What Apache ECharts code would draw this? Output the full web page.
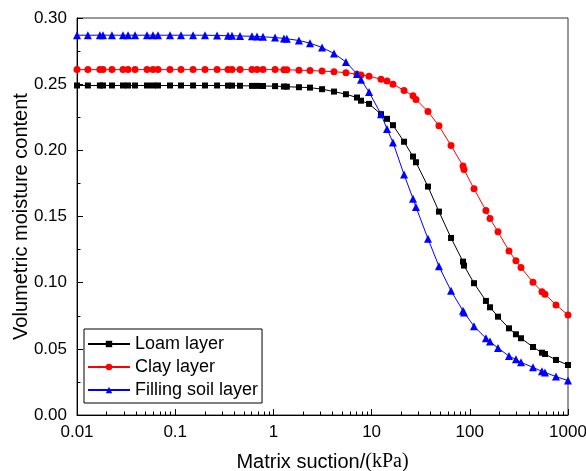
<!DOCTYPE html>
<html>
<head>
<meta charset="utf-8">
<script src="https://cdn.jsdelivr.net/npm/echarts@6/dist/echarts.min.js"></script>
<style>html,body{margin:0;padding:0;background:#fff}#c{width:586px;height:471px}</style>
</head>
<body>
<div id="c"></div>
<script>
// Matrix suction values (kPa), shared by all series
const suction = [0.01, 0.0129, 0.0171, 0.0184, 0.0227, 0.0294, 0.0331, 0.039, 0.0516, 0.0594,
  0.0668, 0.0885, 0.1146, 0.152, 0.201, 0.267, 0.345, 0.379, 0.457, 0.605,
  0.681, 0.784, 1.04, 1.28, 1.37, 1.82, 2.36, 3.13, 4.14, 5.48,
  7.10, 7.80, 9.42, 12.47, 14.35, 16.5, 21.4, 26.4, 28.3, 37.5,
  48.5, 64.4, 85.3, 87.3, 110.4, 146, 160.6, 193.8, 250.6, 295,
  332, 440, 543, 583, 755, 1000];
const loam = [0.249, 0.249, 0.249, 0.249, 0.249, 0.249, 0.249, 0.249, 0.249, 0.249,
  0.249, 0.249, 0.249, 0.249, 0.249, 0.249, 0.2489, 0.2489, 0.2488, 0.2487,
  0.2487, 0.2486, 0.2485, 0.2482, 0.2481, 0.2477, 0.2474, 0.2462, 0.2444, 0.2424,
  0.2399, 0.2375, 0.2351, 0.2273, 0.2238, 0.219, 0.2065, 0.1953, 0.191, 0.1726,
  0.1537, 0.1338, 0.1159, 0.1129, 0.0996, 0.0862, 0.0814, 0.0743, 0.0655, 0.061,
  0.058, 0.0514, 0.0471, 0.0461, 0.0416, 0.0378];
const clay = [0.261, 0.261, 0.261, 0.261, 0.261, 0.261, 0.261, 0.261, 0.261, 0.261,
  0.261, 0.261, 0.261, 0.261, 0.261, 0.261, 0.261, 0.261, 0.261, 0.261,
  0.261, 0.261, 0.261, 0.2609, 0.2608, 0.2606, 0.2603, 0.2599, 0.2594, 0.2587,
  0.2575, 0.257, 0.256, 0.2538, 0.2523, 0.25, 0.2452, 0.2412, 0.2385, 0.2293,
  0.2185, 0.2036, 0.1882, 0.1855, 0.1709, 0.1545, 0.1485, 0.1384, 0.124, 0.1166,
  0.1114, 0.1003, 0.0932, 0.0912, 0.0832, 0.0756];
const filling = [0.287, 0.287, 0.287, 0.287, 0.287, 0.287, 0.287, 0.287, 0.287, 0.287,
  0.287, 0.287, 0.287, 0.287, 0.287, 0.2868, 0.2866, 0.2866, 0.2864, 0.2862,
  0.286, 0.2858, 0.2852, 0.2846, 0.2843, 0.283, 0.281, 0.2777, 0.2732, 0.2668,
  0.2577, 0.2533, 0.244, 0.2273, 0.2162, 0.206, 0.1817, 0.1635, 0.1572, 0.1332,
  0.1124, 0.0938, 0.0787, 0.0775, 0.067, 0.058, 0.0555, 0.0506, 0.0445, 0.0421,
  0.0398, 0.036, 0.033, 0.0322, 0.029, 0.026];
const seriesNames = ['Loam layer', 'Clay layer', 'Filling soil layer'];
const xTickLabels = ['0.01', '0.1', '1', '10', '100', '1000'];
const yTickLabels = ['0.00', '0.05', '0.10', '0.15', '0.20', '0.25', '0.30'];
const xMinorTicks = [];
[0.01, 0.1, 1, 10, 100].forEach(function (d) { for (let k = 2; k <= 9; k++) xMinorTicks.push(+(d * k).toPrecision(3)); });

const pairs = arr => suction.map((x, i) => [x, arr[i]]);
const FONT = '"Liberation Sans", Arial, sans-serif';

const chart = echarts.init(document.getElementById('c'), null, {renderer: 'canvas'});
chart.setOption({
  animation: false,
  backgroundColor: '#fff',
  grid: {left: 77, right: 18, top: 18, bottom: 56, containLabel: false, outerBoundsMode: 'none',
    show: true, borderColor: '#333', borderWidth: 1, backgroundColor: 'transparent'},
  legend: {
    orient: 'vertical', left: 84, top: 329,
    data: seriesNames,
    itemWidth: 42, itemHeight: 8, itemGap: 5,
    padding: [6, 4, 4, 3],
    borderColor: '#000', borderWidth: 1, borderRadius: 0,
    textStyle: {fontFamily: FONT, fontSize: 18, color: '#000'}
  },
  xAxis: [{
    type: 'log', min: 0.01, max: 1000, logBase: 10,
    name: '{a|Matrix suction/}{b|(kPa)}', nameLocation: 'middle', nameGap: 37, nameMoveOverlap: false,
    nameTextStyle: {rich: {
      a: {fontFamily: FONT, fontSize: 20, color: '#000'},
      b: {fontFamily: '"Liberation Serif", "Times New Roman", serif', fontSize: 20, color: '#000'}
    }},
    axisLine: {show: true, lineStyle: {color: '#000', width: 1}},
    axisTick: {show: true, inside: true, length: 6, lineStyle: {color: '#000'}},
    axisLabel: {fontFamily: FONT, fontSize: 17, color: '#000', margin: 9,
      formatter: function (v, i) { return xTickLabels[i] !== undefined ? xTickLabels[i] : ''; }},
    splitLine: {show: false}
  }, {
    type: 'log', min: 0.01, max: 1000, logBase: 10, position: 'bottom',
    axisLine: {show: false},
    axisTick: {show: true, inside: true, length: 3.5, customValues: xMinorTicks, lineStyle: {color: '#000'}},
    axisLabel: {show: false},
    splitLine: {show: false}
  }],
  yAxis: {
    type: 'value', min: 0, max: 0.30, interval: 0.05,
    name: 'Volumetric moisture content', nameLocation: 'middle', nameGap: 46, nameMoveOverlap: false,
    nameTextStyle: {fontFamily: FONT, fontSize: 20, color: '#000'},
    axisLine: {show: true, lineStyle: {color: '#000', width: 1}},
    axisTick: {show: true, inside: true, length: 6, lineStyle: {color: '#000'}},
    minorTick: {show: true, splitNumber: 2, length: 3.5, lineStyle: {color: '#000'}},
    axisLabel: {fontFamily: FONT, fontSize: 17, color: '#000', margin: 10,
      formatter: function (v, i) { return yTickLabels[i] !== undefined ? yTickLabels[i] : ''; }},
    splitLine: {show: false}
  },
  series: [
    {name: seriesNames[0], type: 'line', data: pairs(loam), symbol: 'rect', symbolSize: 6, showAllSymbol: true,
      itemStyle: {color: '#000'}, lineStyle: {color: '#000', width: 1}},
    {name: seriesNames[1], type: 'line', data: pairs(clay), symbol: 'circle', symbolSize: 7, showAllSymbol: true,
      itemStyle: {color: '#ff0000'}, lineStyle: {color: '#ff0000', width: 1}},
    {name: seriesNames[2], type: 'line', data: pairs(filling), symbol: 'triangle', symbolSize: 8, showAllSymbol: true,
      itemStyle: {color: '#0000ff'}, lineStyle: {color: '#0000ff', width: 1}}
  ]
});
</script>
</body>
</html>
